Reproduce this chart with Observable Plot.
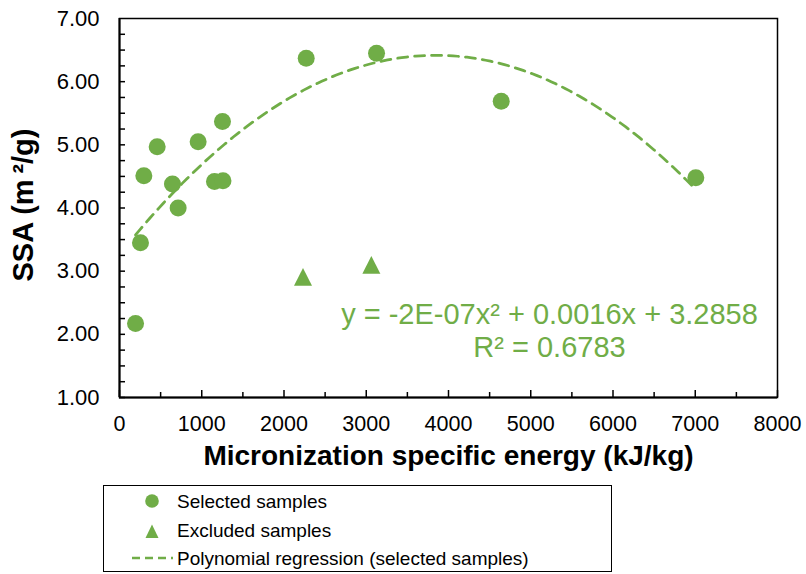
<!DOCTYPE html>
<html><head><meta charset="utf-8">
<script src="https://cdn.jsdelivr.net/npm/d3@7"></script>
<script src="https://cdn.jsdelivr.net/npm/@observablehq/plot@0.6"></script>
<style>
body{margin:0;background:#fff;font-family:"Liberation Sans",Arial,sans-serif;}
#wrap{position:relative;width:806px;height:574px;overflow:hidden;}
#legend{position:absolute;left:103px;top:485px;}
</style></head>
<body><div id="wrap"><div id="chart"></div></div>
<script>
// ---- data ----
const selectedX = [195, 255, 296, 458, 644, 713, 956, 1155, 1258, 1252, 2270, 3125, 4641, 7007];
const selectedY = [2.17, 3.45, 4.51, 4.97, 4.38, 4.00, 5.05, 4.42, 4.43, 5.37, 6.37, 6.45, 5.69, 4.48];
const excludedX = [2231, 3062];
const excludedY = [2.90, 3.09];
const xTicks = [0, 1000, 2000, 3000, 4000, 5000, 6000, 7000, 8000];
const xTickLabels = ["0", "1000", "2000", "3000", "4000", "5000", "6000", "7000", "8000"];
const xMinorTicks = [500, 1500, 2500, 3500, 4500, 5500, 6500, 7500];
const yTicks = [1, 2, 3, 4, 5, 6, 7];
const yTickLabels = ["1.00", "2.00", "3.00", "4.00", "5.00", "6.00", "7.00"];
const yMinorTicks = [1, 1.25, 1.5, 1.75, 2, 2.25, 2.5, 2.75, 3, 3.25, 3.5, 3.75, 4, 4.25, 4.5, 4.75, 5, 5.25, 5.5, 5.75, 6, 6.25, 6.5, 6.75];
const xLabel = "Micronization specific energy (kJ/kg)";
const yLabel = "SSA (m\u2009²/g)";
const equationLines = ["y = -2E-07x² + 0.0016x + 3.2858", "R² = 0.6783"];
const seriesNames = ["Selected samples", "Excluded samples", "Polynomial regression (selected samples)"];
const green = "#70AD47";

const selected = selectedX.map((x, i) => ({x, y: selectedY[i]}));
const excluded = excludedX.map((x, i) => ({x, y: excludedY[i]}));

// quadratic least-squares fit of the selected samples
function polyfit2(xs, ys) {
  const s = 1000;
  const S = [0, 0, 0, 0, 0], T = [0, 0, 0];
  xs.forEach((x0, i) => {
    const x = x0 / s;
    for (let k = 0; k < 5; k++) S[k] += x ** k;
    for (let k = 0; k < 3; k++) T[k] += ys[i] * x ** k;
  });
  const A = [[S[0], S[1], S[2], T[0]], [S[1], S[2], S[3], T[1]], [S[2], S[3], S[4], T[2]]];
  for (let c = 0; c < 3; c++) {
    for (let r = c + 1; r < 3; r++) {
      const f = A[r][c] / A[c][c];
      for (let k = c; k < 4; k++) A[r][k] -= f * A[c][k];
    }
  }
  const b = [0, 0, 0];
  for (let r = 2; r >= 0; r--) {
    let v = A[r][3];
    for (let k = r + 1; k < 3; k++) v -= A[r][k] * b[k];
    b[r] = v / A[r][r];
  }
  return x => b[0] + b[1] * (x / s) + b[2] * (x / s) ** 2;
}
const fit = polyfit2(selectedX, selectedY);
const [xMin, xMax] = d3.extent(selectedX);
const curve = d3.range(0, 121).map(i => {
  const x = xMin + (xMax - xMin) * i / 120;
  return {x, y: fit(x)};
});

const tallTriangle = {
  draw(ctx, size) {
    const r = Math.sqrt(size / Math.PI);
    ctx.moveTo(0, -r * 1.05);
    ctx.lineTo(r, r * 0.92);
    ctx.lineTo(-r, r * 0.92);
    ctx.closePath();
  }
};

const font = '"Liberation Sans", Arial, sans-serif';
const W = 806, H = 482, mL = 119, mR = 29, mT = 18, mB = 85;
const fw = W - mL - mR, fh = H - mT - mB;

const chart = Plot.plot({
  width: W, height: H,
  marginLeft: mL, marginRight: mR, marginTop: mT, marginBottom: mB,
  x: {domain: [0, 8000], axis: null},
  y: {domain: [1, 7], axis: null},
  style: {fontFamily: font, background: "white", color: "black", overflow: "visible"},
  marks: [
    Plot.frame({stroke: "black", strokeWidth: 1.5}),
    Plot.ruleX([0], {stroke: "black", strokeWidth: 2}),
    Plot.ruleY([1], {stroke: "black", strokeWidth: 2}),
    Plot.tickY(yMinorTicks, {y: d => d, insetRight: fw - 6, stroke: "black", strokeWidth: 1.5}),
    Plot.tickX(xTicks, {x: d => d, insetTop: fh - 7, stroke: "black", strokeWidth: 1.5}),
    Plot.tickX(xMinorTicks, {x: d => d, insetTop: fh - 5, stroke: "black", strokeWidth: 1.5}),
    Plot.axisX(xTicks, {anchor: "bottom", tickSize: 0, tickPadding: 18, fontSize: 21.5, label: null, tickFormat: d => xTickLabels[xTicks.indexOf(d)]}),
    Plot.axisY(yTicks, {anchor: "left", tickSize: 0, tickPadding: 20, fontSize: 22, label: null, tickFormat: d => yTickLabels[yTicks.indexOf(d)]}),
    Plot.text([xLabel], {text: d => d, frameAnchor: "bottom", dy: 59, fontSize: 28, fontWeight: "bold", lineAnchor: "middle"}),
    Plot.text([yLabel], {text: d => d, frameAnchor: "left", textAnchor: "middle", rotate: -90, dx: -96, dy: -3, fontSize: 29, fontWeight: "bold", lineAnchor: "middle"}),
    Plot.line(curve, {x: "x", y: "y", stroke: green, strokeWidth: 2.75, strokeDasharray: "10,7", curve: "linear"}),
    Plot.dot(selected, {x: "x", y: "y", r: 8.5, fill: green, stroke: "none"}),
    Plot.dot(excluded, {x: "x", y: "y", r: 9, symbol: tallTriangle, fill: green, stroke: "none"}),
    Plot.text([equationLines.join("\n")], {text: d => d, frameAnchor: "bottom", dx: 101, dy: -68, fontSize: 29, fill: green, lineHeight: 1.14, textAnchor: "middle", lineAnchor: "middle"})
  ]
});
document.getElementById("chart").appendChild(chart);

// legend below the chart
const ns = "http://www.w3.org/2000/svg";
const lg = document.createElementNS(ns, "svg");
lg.setAttribute("id", "legend");
lg.setAttribute("width", 510);
lg.setAttribute("height", 88);
lg.innerHTML = `
  <rect x="0.5" y="0.5" width="508" height="86" fill="white" stroke="black" stroke-width="1"/>
  <circle cx="49" cy="16" r="6.8" fill="${green}"/>
  <path d="M49,39.5 L55.5,53 L42.5,53 Z" fill="${green}"/>
  <line x1="29" x2="70" y1="73" y2="73" stroke="${green}" stroke-width="2.5" stroke-dasharray="8,5"/>
  <g font-family='${font}' font-size="19" fill="black">
    <text x="74" y="23">${seriesNames[0]}</text>
    <text x="74" y="52">${seriesNames[1]}</text>
    <text x="74" y="80">${seriesNames[2]}</text>
  </g>`;
document.getElementById("wrap").appendChild(lg);
</script>
</body></html>
